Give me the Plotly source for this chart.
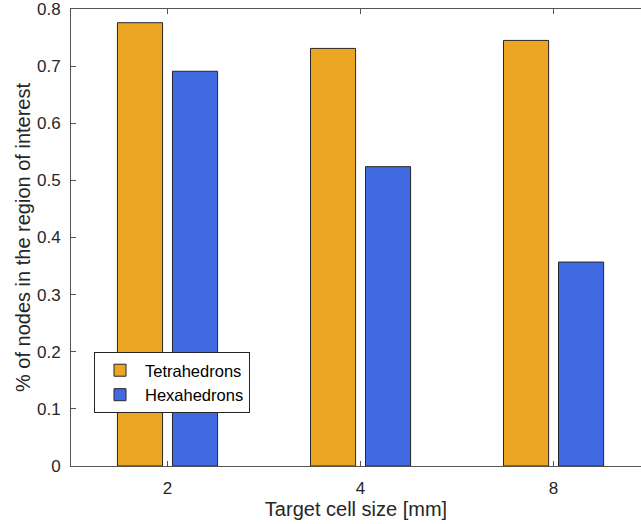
import plotly.graph_objects as go

categories = ["2", "4", "8"]
tetra_values = [0.776, 0.731, 0.745]
hexa_values = [0.691, 0.524, 0.357]
series_names = ["Tetrahedrons", "Hexahedrons"]
y_ticks = [0, 0.1, 0.2, 0.3, 0.4, 0.5, 0.6, 0.7, 0.8]
y_tick_text = ["0", "0.1", "0.2", "0.3", "0.4", "0.5", "0.6", "0.7", "0.8"]

FONT = "Liberation Sans, Arial, Helvetica, sans-serif"
EDGE = "#262626"
AXIS = "#555555"

fig = go.Figure()
fig.add_trace(go.Bar(
    x=categories, y=tetra_values, name=series_names[0],
    marker=dict(color="#EDA623", line=dict(color=EDGE, width=1)),
))
fig.add_trace(go.Bar(
    x=categories, y=hexa_values, name=series_names[1],
    marker=dict(color="#4169E1", line=dict(color=EDGE, width=1)),
))

fig.update_layout(
    width=641, height=524,
    margin=dict(l=71, r=0, t=9, b=58),
    paper_bgcolor="white", plot_bgcolor="white",
    barmode="group", bargap=0.43, bargroupgap=0.18,
    font=dict(family=FONT, size=17, color=EDGE),
    showlegend=True,
    legend=dict(
        x=(94 - 71) / 570, y=(466 - 352) / 457, xanchor="left", yanchor="top",
        bgcolor="white", bordercolor=EDGE, borderwidth=1,
        font=dict(family=FONT, size=16.5, color="#000000"),
        tracegroupgap=0, itemwidth=40,
    ),
    xaxis=dict(
        type="category", range=[-0.5, 2.453], automargin=False,
        showline=True, linecolor=AXIS, linewidth=1, mirror="ticks",
        ticks="inside", ticklen=5, tickcolor=AXIS,
        showgrid=False, zeroline=False, ticklabelstandoff=7,
        tickfont=dict(size=17, color=EDGE),
        title=dict(text="Target cell size [mm]", font=dict(size=20, color=EDGE), standoff=3),
    ),
    yaxis=dict(
        range=[0, 0.8], tickvals=y_ticks, ticktext=y_tick_text, automargin=False,
        showline=True, linecolor=AXIS, linewidth=1, mirror=False,
        ticks="inside", ticklen=5, tickcolor=AXIS,
        showgrid=False, zeroline=False, ticklabelstandoff=6,
        ticklabeloverflow="allow",
        tickfont=dict(size=17, color=EDGE),
        title=dict(text="% of nodes in the region of interest", font=dict(size=20, color=EDGE), standoff=0),
    ),
)

page_css = (
    "document.body.style.margin='0';"
    "document.body.style.padding='0';"
    "document.body.style.overflow='hidden';"
    "document.documentElement.style.overflow='hidden';"
)

fig.write_html("out.html", post_script=page_css, config={"displayModeBar": False})
